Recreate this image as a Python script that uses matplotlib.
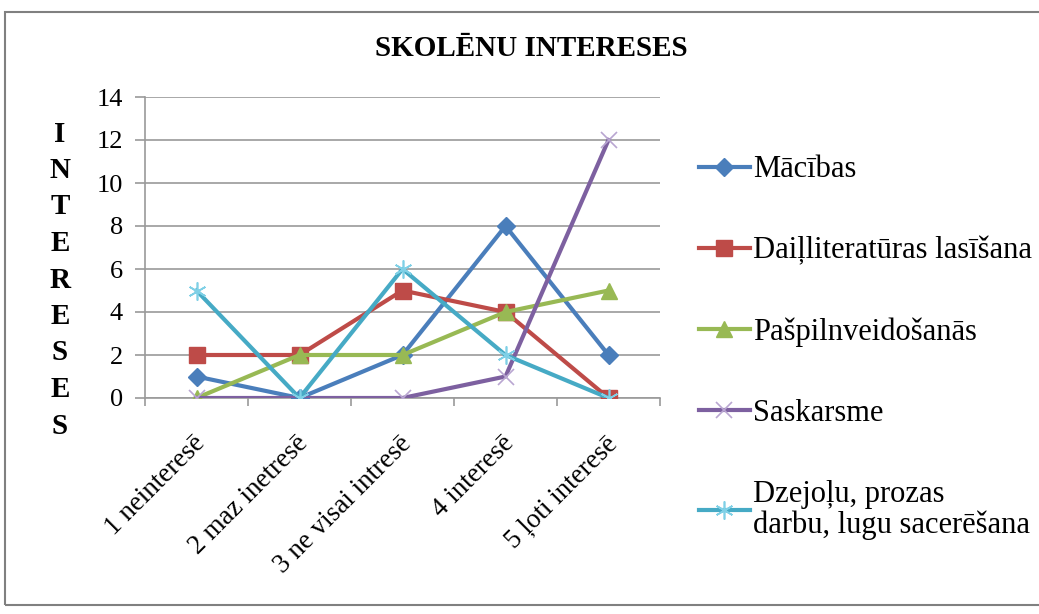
import matplotlib.pyplot as plt
from matplotlib.patches import Rectangle
from matplotlib.transforms import ScaledTranslation, blended_transform_factory

plt.rcParams['font.family'] = 'serif'
plt.rcParams['font.serif'] = ['Liberation Serif', 'DejaVu Serif']

categories = ['1 neinteresē', '2 maz inetresē', '3 ne visai intresē', '4 interesē', '5 ļoti interesē']
macibas = [1, 0, 2, 8, 2]
dailliteratura = [2, 2, 5, 4, 0]
paspilnveidosanas = [0, 2, 2, 4, 5]
saskarsme = [0, 0, 0, 1, 12]
dzejolu = [5, 0, 6, 2, 0]

series = [
    ('Mācības', macibas, '#4a7ebb', 'D', 9, '#4a7ebb'),
    ('Daiļliteratūras lasīšana', dailliteratura, '#be4b48', 's', 12, '#be4b48'),
    ('Pašpilnveidošanās', paspilnveidosanas, '#98b954', '^', 11, '#98b954'),
    ('Saskarsme', saskarsme, '#7d60a0', 'x', 11, '#b9a6d1'),
    ('Dzejoļu, prozas\ndarbu, lugu sacerēšana', dzejolu, '#46aac5', (6, 2, 0), 13, '#7fd0e6'),
]

fig = plt.figure(figsize=(10.39, 6.14), dpi=100)
ax = fig.add_axes([145 / 1039, 1 - 398 / 614, 515 / 1039, 301 / 614])

x = range(len(categories))
for name, vals, color, marker, size, mcolor in series:
    if marker in ('x', (6, 2, 0)):
        ax.plot(x, vals, color=color, linewidth=3, marker=marker, markersize=size,
                markeredgecolor=mcolor, markeredgewidth=1.2, label=name, zorder=3)
    else:
        ax.plot(x, vals, color=color, linewidth=3, marker=marker, markersize=size,
                markerfacecolor=mcolor, markeredgecolor=mcolor, label=name, zorder=3)

ax.set_xlim(-0.5, 4.5)
ax.set_ylim(0, 14)
ax.set_yticks(range(0, 15, 2))
ax.grid(axis='y', color='#9a9a9a', linewidth=1.2)
ax.set_axisbelow(True)
for s in ['top', 'right']:
    ax.spines[s].set_visible(False)
for s in ['left', 'bottom']:
    ax.spines[s].set_color('#9a9a9a')
    ax.spines[s].set_linewidth(1.2)

# category boundaries get the tick marks, labels sit between them
ax.set_xticks([i - 0.5 for i in range(6)])
ax.set_xticklabels([])
ax.tick_params(axis='x', length=6, color='#9a9a9a', width=1.2)
ax.tick_params(axis='y', length=7, color='#9a9a9a', width=1.2, labelsize=19, pad=9)

trans = blended_transform_factory(ax.transData, ax.transAxes) + \
    ScaledTranslation(-4 / 100, -33 / 100, fig.dpi_scale_trans)
for i, cat in enumerate(categories):
    ax.text(i, 0, cat, transform=trans, rotation=45, ha='right', va='top',
            rotation_mode='anchor', fontsize=19.5)

fig.text(531 / 1039, 1 - 48 / 614, 'SKOLĒNU INTERESES',
         ha='center', va='center', fontsize=21, fontweight='bold')

for i, ch in enumerate('INTERESES'):
    fig.text(60 / 1039, 1 - (134 + i * 36.5) / 614, ch, ha='center', va='center',
             fontsize=21, fontweight='bold')

leg = fig.legend(loc='upper left', bbox_to_anchor=(687 / 1039, 1 - 143 / 614),
                 frameon=False, fontsize=22, handlelength=1.65, handletextpad=0.1,
                 labelspacing=1.7, borderaxespad=0)
leg.get_texts()[-1].set_linespacing(1.1)

fig.patches.append(Rectangle((5 / 1039, 9 / 614), 1.0, 1 - 21 / 614,
                             transform=fig.transFigure, fill=False,
                             edgecolor='#808080', linewidth=1.5))

fig.savefig('out.png', dpi=100)
